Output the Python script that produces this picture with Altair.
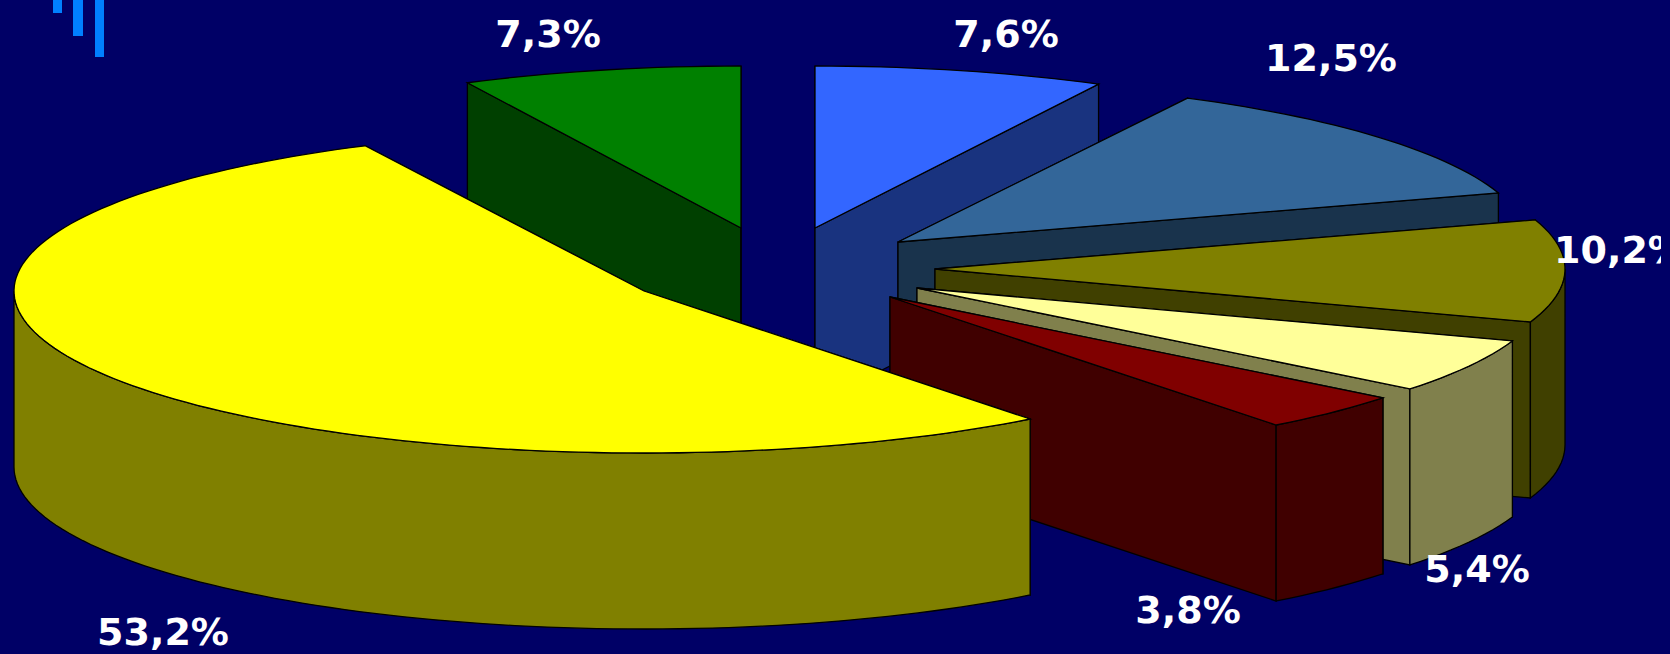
import math
import altair as alt

# Pie shares in drawing order, clockwise from twelve o'clock
shares = [7.6, 12.5, 10.2, 5.4, 3.8, 53.2, 7.3]

# Colours of the top surface and the shaded sides of each slice
top_colours = ["#3366FF", "#336699", "#808000", "#FFFF99", "#800000", "#FFFF00", "#008000"]
side_colours = ["#19337F", "#19334C", "#404000", "#80804C", "#400000", "#808000", "#004000"]

# Where each exploded slice has its tip
tips_x = [815, 898, 935, 917, 890, 644, 741]
tips_y = [228, 242, 269, 288, 297, 291, 228]

# Horizontal radius per slice: the far slices read slightly narrower
radii_x = [617, 630, 630, 630, 630, 630, 618]

# Back-to-front painting order, as slice indices
paint_order = [6, 0, 1, 2, 3, 4, 5]

# Label anchors, one per slice
label_x = [1006, 1331, 1620, 1477, 1188, 163, 548]
label_y = [47, 71, 263, 582, 623, 645, 47]

# Corner ornament bars: left, right, length
ornament_left = [53, 73, 95]
ornament_right = [62, 83, 104]
ornament_len = [13, 36, 57]

RY, DEPTH = 162, 176
BG = "#000066"


def rim_point(cx, cy, rx, t, drop=0):
    r = math.radians(t)
    return [cx + rx * math.sin(r), cy - RY * math.cos(r) + drop]


def arc(cx, cy, rx, t0, t1, drop=0):
    n = max(2, int(abs(t1 - t0) / 1.5))
    return [rim_point(cx, cy, rx, t0 + (t1 - t0) * i / n, drop) for i in range(n + 1)]


def feature(ring, fill):
    return {
        "type": "Feature",
        "geometry": {"type": "Polygon", "coordinates": [ring + [ring[0]]]},
        "properties": {"fill": fill},
    }


def slice_parts(i, start, end):
    cx, cy, rx = tips_x[i], tips_y[i], radii_x[i]
    side, top = side_colours[i], top_colours[i]
    parts = []
    for t in (start, end):
        p = rim_point(cx, cy, rx, t)
        parts.append(feature([[cx, cy], p, [p[0], p[1] + DEPTH], [cx, cy + DEPTH]], side))
    lo, hi = max(start, 90), min(end, 270)
    if lo < hi:
        parts.append(feature(arc(cx, cy, rx, lo, hi) + arc(cx, cy, rx, hi, lo, DEPTH), side))
    parts.append(feature([[cx, cy]] + arc(cx, cy, rx, start, end), top))
    return parts


bounds = []
running = 0.0
for s in shares:
    bounds.append((running * 3.6, (running + s) * 3.6))
    running += s

features = []
for i in paint_order:
    features.extend(slice_parts(i, *bounds[i]))

pie = (
    alt.Chart(alt.Data(values=features))
    .mark_geoshape(stroke="#000000", strokeWidth=1.3)
    .encode(fill=alt.Fill("properties.fill:N", scale=None))
    .project(type="identity", scale=1, translate=[0, 0])
)

labels = [
    alt.Chart(alt.Data(values=[{"label": f"{s:.1f}%".replace(".", ",")}]))
    .mark_text(font="DejaVu Sans", fontWeight="bold", fontSize=38, color="#FFFFFF",
               align="center", baseline="alphabetic")
    .encode(text="label:N", x=alt.value(x), y=alt.value(y))
    for s, x, y in zip(shares, label_x, label_y)
]

ornament = [
    alt.Chart(alt.Data(values=[{"bar": n}]))
    .mark_rect(color="#0080FF")
    .encode(x=alt.value(l), x2=alt.value(r), y=alt.value(0), y2=alt.value(h))
    for n, (l, r, h) in enumerate(zip(ornament_left, ornament_right, ornament_len))
]

# Narrow strip along the right side of the slide
edge = (
    alt.Chart(alt.Data(values=[{"strip": 1}]))
    .mark_rect(color=BG)
    .encode(x=alt.value(1661), x2=alt.value(1670), y=alt.value(0), y2=alt.value(654))
)

chart = (
    alt.layer(pie, *labels, *ornament, edge)
    .properties(width=1670, height=654, padding=0, background=BG,
                autosize=alt.AutoSizeParams(type="none"))
    .configure_view(stroke=None)
)

chart.save("out.html", embed_options={"renderer": "svg", "actions": False})
